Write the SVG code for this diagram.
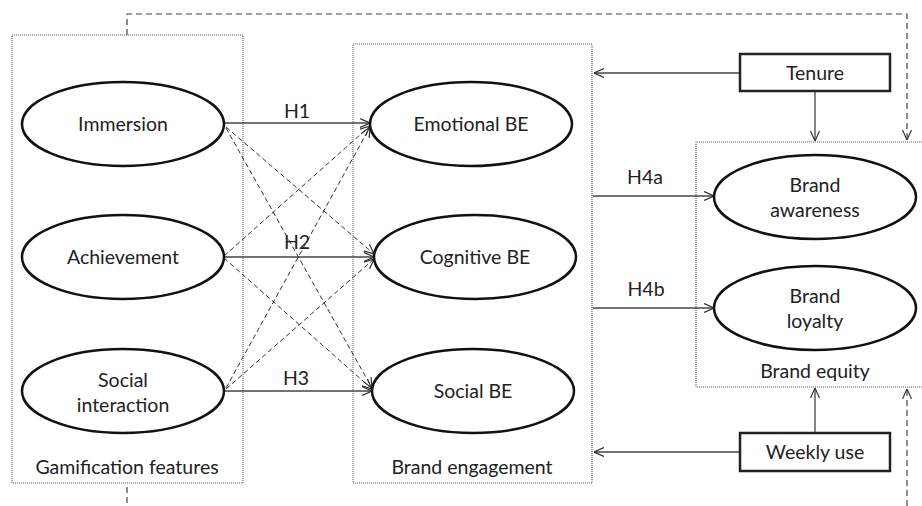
<svg xmlns="http://www.w3.org/2000/svg" width="922" height="506" viewBox="0 0 922 506">
<defs>
<marker id="ah" viewBox="0 0 10 10" refX="10" refY="5" markerWidth="10" markerHeight="10" markerUnits="userSpaceOnUse" orient="auto">
<path d="M0,0.5 L10,5 L0,9.5" fill="none" stroke="#333" stroke-width="1.2"/>
</marker>
</defs>
<style>
text{font-family:Lato,"Open Sans","Liberation Sans",sans-serif;font-size:19.5px;fill:#222;text-anchor:middle}
.grp{fill:none;stroke:#555;stroke-width:1;stroke-dasharray:1 1}
.ell{fill:#fff;stroke:#111;stroke-width:2.5}
.box{fill:#fff;stroke:#222;stroke-width:2.5}
.solid{fill:none;stroke:#444;stroke-width:1.3}
.dash{fill:none;stroke:#333;stroke-width:1;stroke-dasharray:5 3}
.ldash{fill:none;stroke:#444;stroke-width:1.2;stroke-dasharray:6 4}
</style>
<rect width="922" height="506" fill="#fff"/>
<g id="groups">
<rect class="grp" x="12" y="35" width="231" height="448"/>
<rect class="grp" x="353" y="44" width="239" height="439"/>
<path class="grp" d="M922,142 L696,142 L696,387 L922,387"/>
</g>
<g id="connectors">
<path class="ldash" d="M127,35 L127,14 L907,14 L907,140" marker-end="url(#ah)"/>
<path class="ldash" d="M127,487 L127,506"/>
<path class="ldash" d="M907,506 L907,389" marker-end="url(#ah)"/>
<path class="solid" d="M224,123 L370,123" marker-end="url(#ah)"/>
<path class="solid" d="M224,257 L374,257" marker-end="url(#ah)"/>
<path class="solid" d="M225,391 L372,391" marker-end="url(#ah)"/>
<path class="dash" d="M226,127 L374,254" marker-end="url(#ah)"/>
<path class="dash" d="M226,128 L372,388" marker-end="url(#ah)"/>
<path class="dash" d="M224,256 L370,126" marker-end="url(#ah)"/>
<path class="dash" d="M224,258 L372,389" marker-end="url(#ah)"/>
<path class="dash" d="M226,388 L370,127" marker-end="url(#ah)"/>
<path class="dash" d="M226,389 L374,259" marker-end="url(#ah)"/>
<path class="solid" d="M740,73 L594,73" marker-end="url(#ah)"/>
<path class="solid" d="M815,91 L815,141" marker-end="url(#ah)"/>
<path class="solid" d="M740,452 L594,452" marker-end="url(#ah)"/>
<path class="solid" d="M815,433 L815,388" marker-end="url(#ah)"/>
<path class="solid" d="M593,196 L714,196" marker-end="url(#ah)"/>
<path class="solid" d="M593,308 L714,308" marker-end="url(#ah)"/>
<text x="297" y="118">H1</text>
<text x="297" y="249">H2</text>
<text x="296" y="385">H3</text>
<text x="645" y="184">H4a</text>
<text x="646" y="296">H4b</text>
</g>
<g id="immersion"><ellipse class="ell" cx="123" cy="124" rx="101" ry="42"/><text x="123" y="131">Immersion</text></g>
<g id="achievement"><ellipse class="ell" cx="123" cy="257" rx="101" ry="42"/><text x="123" y="264">Achievement</text></g>
<g id="social-interaction"><ellipse class="ell" cx="123" cy="391" rx="101" ry="42"/><text x="123" y="387">Social</text><text x="123" y="412">interaction</text></g>
<g id="emotional-be"><ellipse class="ell" cx="471" cy="124" rx="101" ry="42"/><text x="471" y="131">Emotional BE</text></g>
<g id="cognitive-be"><ellipse class="ell" cx="475" cy="257" rx="101" ry="42"/><text x="475" y="264">Cognitive BE</text></g>
<g id="social-be"><ellipse class="ell" cx="473" cy="391" rx="101" ry="42"/><text x="473" y="398">Social BE</text></g>
<g id="brand-awareness"><ellipse class="ell" cx="815" cy="197" rx="101" ry="42"/><text x="815" y="192">Brand</text><text x="815" y="217">awareness</text></g>
<g id="brand-loyalty"><ellipse class="ell" cx="815" cy="308" rx="101" ry="42"/><text x="815" y="303">Brand</text><text x="815" y="328">loyalty</text></g>
<g id="tenure"><rect class="box" x="740" y="54" width="150" height="37"/><text x="815" y="80">Tenure</text></g>
<g id="weekly-use"><rect class="box" x="740" y="433" width="150" height="38"/><text x="815" y="459">Weekly use</text></g>
<g id="labels">
<text x="127" y="474">Gamification features</text>
<text x="472" y="474">Brand engagement</text>
<text x="815" y="378">Brand equity</text>
</g>
</svg>
